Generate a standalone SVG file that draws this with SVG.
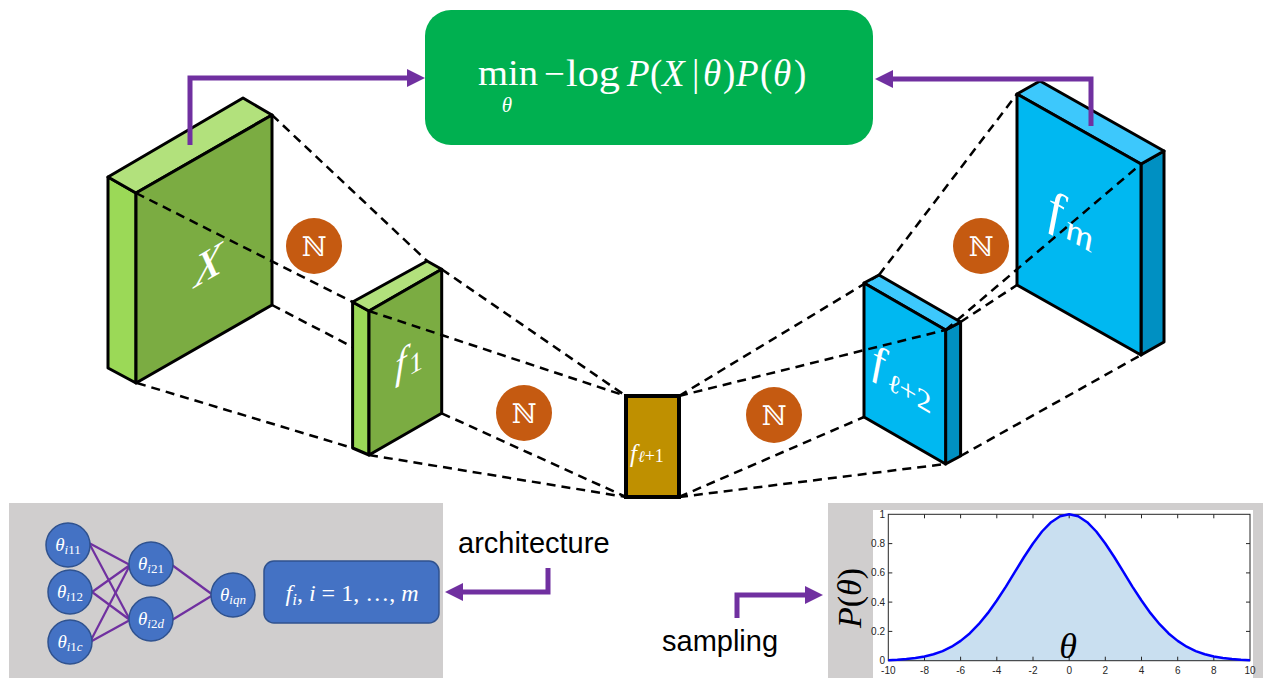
<svg xmlns="http://www.w3.org/2000/svg" width="1263" height="678" viewBox="0 0 1263 678">
<style>
.blk{stroke:#000;stroke-width:3;stroke-linejoin:round}
.gf{fill:#7BAC42}.gs{fill:#9BD957}.gt{fill:#B2E17C}
.bf{fill:#00B8F1}.bs{fill:#0090C2}.bt{fill:#3DC8FC}
.dash{fill:none;stroke:#000;stroke-width:2.5;stroke-dasharray:9 6}
.arr{fill:none;stroke:#7030A0;stroke-width:5;stroke-linejoin:miter}
.nn{fill:#C55A11}
.nt{font-family:"DejaVu Serif",serif;font-size:27px;fill:#fff;text-anchor:middle}
.wt{font-family:"Liberation Serif","DejaVu Serif",serif;fill:#fff}
.it{font-style:italic}
.ell{font-family:"DejaVu Serif",serif;font-style:italic}
.nc{fill:#4472C4;stroke:#2F528F;stroke-width:1.5}
.nl{stroke:#7030A0;stroke-width:2.2}
.ct{font-family:"Liberation Serif","DejaVu Serif",serif;fill:#fff;font-size:19px;text-anchor:middle}
.lab{font-family:"Liberation Sans",Arial,sans-serif;font-size:29px;fill:#000}
.tk{font-family:"Liberation Sans",Arial,sans-serif;font-size:10px;fill:#262626}
.tick{stroke:#262626;stroke-width:1}
</style>
<defs>
<marker id="ah" markerUnits="userSpaceOnUse" markerWidth="18" markerHeight="18" viewBox="0 0 18 18" refX="5" refY="9" orient="auto">
<path d="M0,0 L18,9 L0,18 z" fill="#7030A0"/>
</marker>
</defs>
<rect width="1263" height="678" fill="#fff"/>

<g id="objective">
<rect x="425" y="10" width="448" height="135" rx="26" fill="#00B050"/>
<text class="wt" font-size="36" y="85"><tspan x="478" textLength="60" lengthAdjust="spacingAndGlyphs">min</tspan></text>
<text class="wt it" font-size="21" x="507" y="112" text-anchor="middle">θ</text>
<text class="wt" font-size="37" y="86"><tspan x="544">−</tspan><tspan x="566" textLength="54" lengthAdjust="spacingAndGlyphs">log</tspan></text>
<text class="wt" font-size="37" y="86"><tspan class="it" x="627">P</tspan><tspan x="650">(</tspan><tspan class="it" x="662">X</tspan><tspan x="692">|</tspan><tspan class="it" x="703">θ</tspan><tspan x="723">)</tspan><tspan class="it" x="736">P</tspan><tspan x="760">(</tspan><tspan class="it" x="773">θ</tspan><tspan x="794">)</tspan></text>
</g>

<g id="block-X">
<polygon class="blk gs" points="108,177 136,193 136,383 108,368"/>
<polygon class="blk gt" points="108,177 243,98 272,115 136,193"/>
<polygon class="blk gf" points="136,193 272,115 272,305 136,383"/>
<text class="wt it" font-size="46" text-anchor="middle" transform="translate(208,280) skewY(-30)">X</text>
</g>

<g id="block-f1">
<polygon class="blk gs" points="352.6,302 369,311 369,455 352.6,448"/>
<polygon class="blk gt" points="352.6,302 427,261 441.7,269.3 369,311"/>
<polygon class="blk gf" points="369,311 441.7,269.3 441.7,413.3 369,455"/>
<text class="wt" transform="translate(395,380) skewY(-30)"><tspan class="it" font-size="40">f</tspan><tspan font-size="28" dx="3" dy="4">1</tspan></text>
</g>

<g id="block-fl1">
<rect x="626" y="396" width="53" height="101" fill="#BF9000" stroke="#000" stroke-width="4"/>
<text class="wt" x="630" y="462"><tspan class="it" font-size="25">f</tspan><tspan class="ell" font-size="16" dx="1">ℓ</tspan><tspan font-size="18">+1</tspan></text>
</g>

<g id="block-fl2">
<polygon class="blk bs" points="945.6,330 960.6,322 960.6,456 945.6,464"/>
<polygon class="blk bt" points="864,283 879,275 960.6,322 945.6,330"/>
<polygon class="blk bf" points="864,283 945.6,330 945.6,464 864,417"/>
<text class="wt" transform="translate(872,372) skewY(30)"><tspan class="it" font-size="44">f</tspan><tspan class="ell" font-size="27" dx="4" dy="8">ℓ</tspan><tspan font-size="30">+2</tspan></text>
</g>

<g id="block-fm">
<polygon class="blk bs" points="1141,164 1164,151 1164,342 1141,355"/>
<polygon class="blk bt" points="1017,94 1040,81 1164,151 1141,164"/>
<polygon class="blk bf" points="1017,94 1141,164 1141,355 1017,285"/>
<text class="wt" transform="translate(1048,222) skewY(30)"><tspan class="it" font-size="52">f</tspan><tspan class="it" font-size="38" dx="3" dy="6">m</tspan></text>
</g>

<g id="connectors">
<line class="dash" x1="272" y1="115" x2="427" y2="261"/>
<line class="dash" x1="136" y1="193" x2="352.6" y2="302"/>
<line class="dash" x1="272" y1="305" x2="352.6" y2="347"/>
<line class="dash" x1="137" y1="383" x2="352.6" y2="448"/>
<line class="dash" x1="441.7" y1="269.3" x2="626" y2="396"/>
<line class="dash" x1="369" y1="311" x2="626" y2="396"/>
<line class="dash" x1="441.7" y1="413.3" x2="626" y2="497"/>
<line class="dash" x1="369" y1="455" x2="626" y2="497"/>
<line class="dash" x1="679" y1="396" x2="879" y2="275"/>
<line class="dash" x1="679" y1="396" x2="945.6" y2="330"/>
<line class="dash" x1="679" y1="497" x2="864" y2="417"/>
<line class="dash" x1="679" y1="497" x2="945.6" y2="464"/>
<line class="dash" x1="879" y1="275" x2="1017" y2="94"/>
<line class="dash" x1="960.6" y1="322" x2="1017" y2="285"/>
<line class="dash" x1="945.6" y1="330" x2="1141" y2="164"/>
<line class="dash" x1="960.6" y1="456" x2="1141" y2="355"/>
<path class="arr" d="M190,145 V78 H412" marker-end="url(#ah)"/>
<path class="arr" d="M1091,126 V79 H888" marker-end="url(#ah)"/>
<path class="arr" d="M548,568 V592 H458" marker-end="url(#ah)"/>
<path class="arr" d="M737,618 V595 H810" marker-end="url(#ah)"/>
</g>

<g id="n1"><circle class="nn" cx="314" cy="246" r="28"/><text class="nt" x="314" y="256">ℕ</text></g>
<g id="n2"><circle class="nn" cx="524" cy="413" r="28"/><text class="nt" x="524" y="423">ℕ</text></g>
<g id="n3"><circle class="nn" cx="774" cy="415" r="28"/><text class="nt" x="774" y="425">ℕ</text></g>
<g id="n4"><circle class="nn" cx="981" cy="246" r="28"/><text class="nt" x="981" y="256">ℕ</text></g>

<g id="architecture-panel">
<rect x="9" y="503" width="434" height="175" fill="#D0CECE"/>
<g>
<line class="nl" x1="89" y1="543" x2="130" y2="565"/>
<line class="nl" x1="89" y1="543" x2="130" y2="620"/>
<line class="nl" x1="92" y1="592" x2="130" y2="565"/>
<line class="nl" x1="92" y1="592" x2="130" y2="620"/>
<line class="nl" x1="90" y1="642" x2="130" y2="565"/>
<line class="nl" x1="90" y1="642" x2="130" y2="620"/>
<line class="nl" x1="172" y1="565" x2="213" y2="595"/>
<line class="nl" x1="172" y1="620" x2="213" y2="595"/>
</g>
<g id="th-i11"><circle class="nc" cx="68" cy="545" r="22"/><text class="ct" x="68" y="551"><tspan class="it">θ</tspan><tspan font-size="13" class="it" dy="3">i</tspan><tspan font-size="13">11</tspan></text></g>
<g id="th-i12"><circle class="nc" cx="70" cy="592" r="22"/><text class="ct" x="70" y="598"><tspan class="it">θ</tspan><tspan font-size="13" class="it" dy="3">i</tspan><tspan font-size="13">12</tspan></text></g>
<g id="th-i1c"><circle class="nc" cx="70" cy="642" r="22"/><text class="ct" x="70" y="648"><tspan class="it">θ</tspan><tspan font-size="13" class="it" dy="3">i</tspan><tspan font-size="13">1</tspan><tspan font-size="13" class="it">c</tspan></text></g>
<g id="th-i21"><circle class="nc" cx="151" cy="564" r="22"/><text class="ct" x="151" y="570"><tspan class="it">θ</tspan><tspan font-size="13" class="it" dy="3">i</tspan><tspan font-size="13">21</tspan></text></g>
<g id="th-i2d"><circle class="nc" cx="151" cy="619" r="22"/><text class="ct" x="151" y="625"><tspan class="it">θ</tspan><tspan font-size="13" class="it" dy="3">i</tspan><tspan font-size="13">2</tspan><tspan font-size="13" class="it">d</tspan></text></g>
<g id="th-iqn"><circle class="nc" cx="233" cy="595" r="22"/><text class="ct" x="233" y="601"><tspan class="it">θ</tspan><tspan font-size="13" class="it" dy="3">iqn</tspan></text></g>
<g id="fi-box">
<rect class="nc" x="264" y="561" width="175" height="62" rx="10"/>
<text class="wt" font-size="24" x="352" y="601" text-anchor="middle"><tspan class="it">f</tspan><tspan class="it" font-size="17" dy="4">i</tspan><tspan dy="-4">, </tspan><tspan class="it">i</tspan><tspan> = 1, …, </tspan><tspan class="it">m</tspan></text>
</g>
</g>

<g id="labels">
<text class="lab" x="458" y="553">architecture</text>
<text class="lab" x="662" y="651">sampling</text>
</g>

<g id="prior-panel">
<rect x="828" y="503" width="435" height="175" fill="#D0CECE"/>
<rect x="873" y="510" width="380" height="168" fill="#fff"/>
<path d="M888.3,660.7 L888.3,660.14 L897.3,659.73 L906.4,659.08 L915.4,658.05 L924.5,656.51 L933.5,654.27 L942.6,651.08 L951.6,646.70 L960.6,640.89 L969.7,633.43 L978.7,624.19 L987.8,613.16 L996.8,600.51 L1005.9,586.58 L1014.9,571.91 L1023.9,557.25 L1033.0,543.48 L1042.0,531.50 L1051.1,522.20 L1060.1,516.32 L1069.15,514.30 L1078.2,516.32 L1087.2,522.20 L1096.3,531.50 L1105.3,543.48 L1114.4,557.25 L1123.4,571.91 L1132.4,586.58 L1141.5,600.51 L1150.5,613.16 L1159.6,624.19 L1168.6,633.43 L1177.7,640.89 L1186.7,646.70 L1195.7,651.08 L1204.8,654.27 L1213.8,656.51 L1222.9,658.05 L1231.9,659.08 L1241.0,659.73 L1250.0,660.14 L1250,660.7 Z" fill="#C9DFF0"/>
<rect x="888.3" y="514.3" width="361.7" height="146.4" fill="none" stroke="#262626" stroke-width="1"/>
<g class="tick">
<path d="M924.5,660.7v-4M960.6,660.7v-4M996.8,660.7v-4M1033,660.7v-4M1069.2,660.7v-4M1105.3,660.7v-4M1141.5,660.7v-4M1177.7,660.7v-4M1213.8,660.7v-4"/>
<path d="M924.5,514.3v4M960.6,514.3v4M996.8,514.3v4M1033,514.3v4M1069.2,514.3v4M1105.3,514.3v4M1141.5,514.3v4M1177.7,514.3v4M1213.8,514.3v4"/>
<path d="M888.3,631.4h4M888.3,602.1h4M888.3,572.9h4M888.3,543.6h4M1250,631.4h-4M1250,602.1h-4M1250,572.9h-4M1250,543.6h-4"/>
</g>
<path d="M888.3,660.14 L897.3,659.73 L906.4,659.08 L915.4,658.05 L924.5,656.51 L933.5,654.27 L942.6,651.08 L951.6,646.70 L960.6,640.89 L969.7,633.43 L978.7,624.19 L987.8,613.16 L996.8,600.51 L1005.9,586.58 L1014.9,571.91 L1023.9,557.25 L1033.0,543.48 L1042.0,531.50 L1051.1,522.20 L1060.1,516.32 L1069.15,514.30 L1078.2,516.32 L1087.2,522.20 L1096.3,531.50 L1105.3,543.48 L1114.4,557.25 L1123.4,571.91 L1132.4,586.58 L1141.5,600.51 L1150.5,613.16 L1159.6,624.19 L1168.6,633.43 L1177.7,640.89 L1186.7,646.70 L1195.7,651.08 L1204.8,654.27 L1213.8,656.51 L1222.9,658.05 L1231.9,659.08 L1241.0,659.73 L1250.0,660.14" fill="none" stroke="#0000FF" stroke-width="2.5" stroke-linejoin="round"/>
<g class="tk" text-anchor="end">
<text x="885" y="518">1</text>
<text x="885" y="547">0.8</text>
<text x="885" y="576">0.6</text>
<text x="885" y="606">0.4</text>
<text x="885" y="635">0.2</text>
<text x="885" y="664">0</text>
</g>
<g class="tk" text-anchor="middle">
<text x="888.3" y="674">-10</text>
<text x="924.5" y="674">-8</text>
<text x="960.6" y="674">-6</text>
<text x="996.8" y="674">-4</text>
<text x="1033" y="674">-2</text>
<text x="1069.2" y="674">0</text>
<text x="1105.3" y="674">2</text>
<text x="1141.5" y="674">4</text>
<text x="1177.7" y="674">6</text>
<text x="1213.8" y="674">8</text>
<text x="1250" y="674">10</text>
</g>
<text font-family="'Liberation Serif',serif" font-size="36" font-style="italic" x="1068" y="658" text-anchor="middle" fill="#000">θ</text>
<text font-family="'Liberation Serif',serif" font-size="34" fill="#000" text-anchor="middle" transform="translate(861,598) rotate(-90)"><tspan font-style="italic">P</tspan>(<tspan font-style="italic">θ</tspan>)</text>
</g>
</svg>
